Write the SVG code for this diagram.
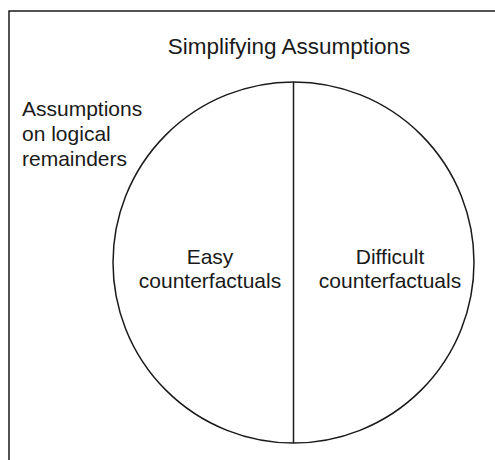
<svg xmlns="http://www.w3.org/2000/svg" width="495" height="460" viewBox="0 0 495 460">
<style>
.ln{fill:none;stroke:#1a1a1a;stroke-width:1.5}
text{font-family:"Liberation Sans",Arial,sans-serif;font-size:21px;fill:#1a1a1a}
.c{text-anchor:middle}
.t{font-size:22.5px}
</style>
<rect width="495" height="460" fill="#ffffff"/>
<g id="frame"><rect class="ln" x="9" y="11" width="500" height="470"/></g>
<g id="title"><text class="c t" x="289" y="54">Simplifying Assumptions</text></g>
<g id="remainders">
<text x="22" y="116">Assumptions</text>
<text x="22" y="141">on logical</text>
<text x="22" y="166">remainders</text>
</g>
<g id="circle"><circle class="ln" cx="293.5" cy="262.5" r="180.5"/></g>
<g id="connectors"><line class="ln" x1="293.5" y1="82" x2="293.5" y2="443"/></g>
<g id="easy">
<text class="c" x="210" y="264">Easy</text>
<text class="c" x="210" y="288">counterfactuals</text>
</g>
<g id="difficult">
<text class="c" x="390" y="264">Difficult</text>
<text class="c" x="390" y="288">counterfactuals</text>
</g>
</svg>
